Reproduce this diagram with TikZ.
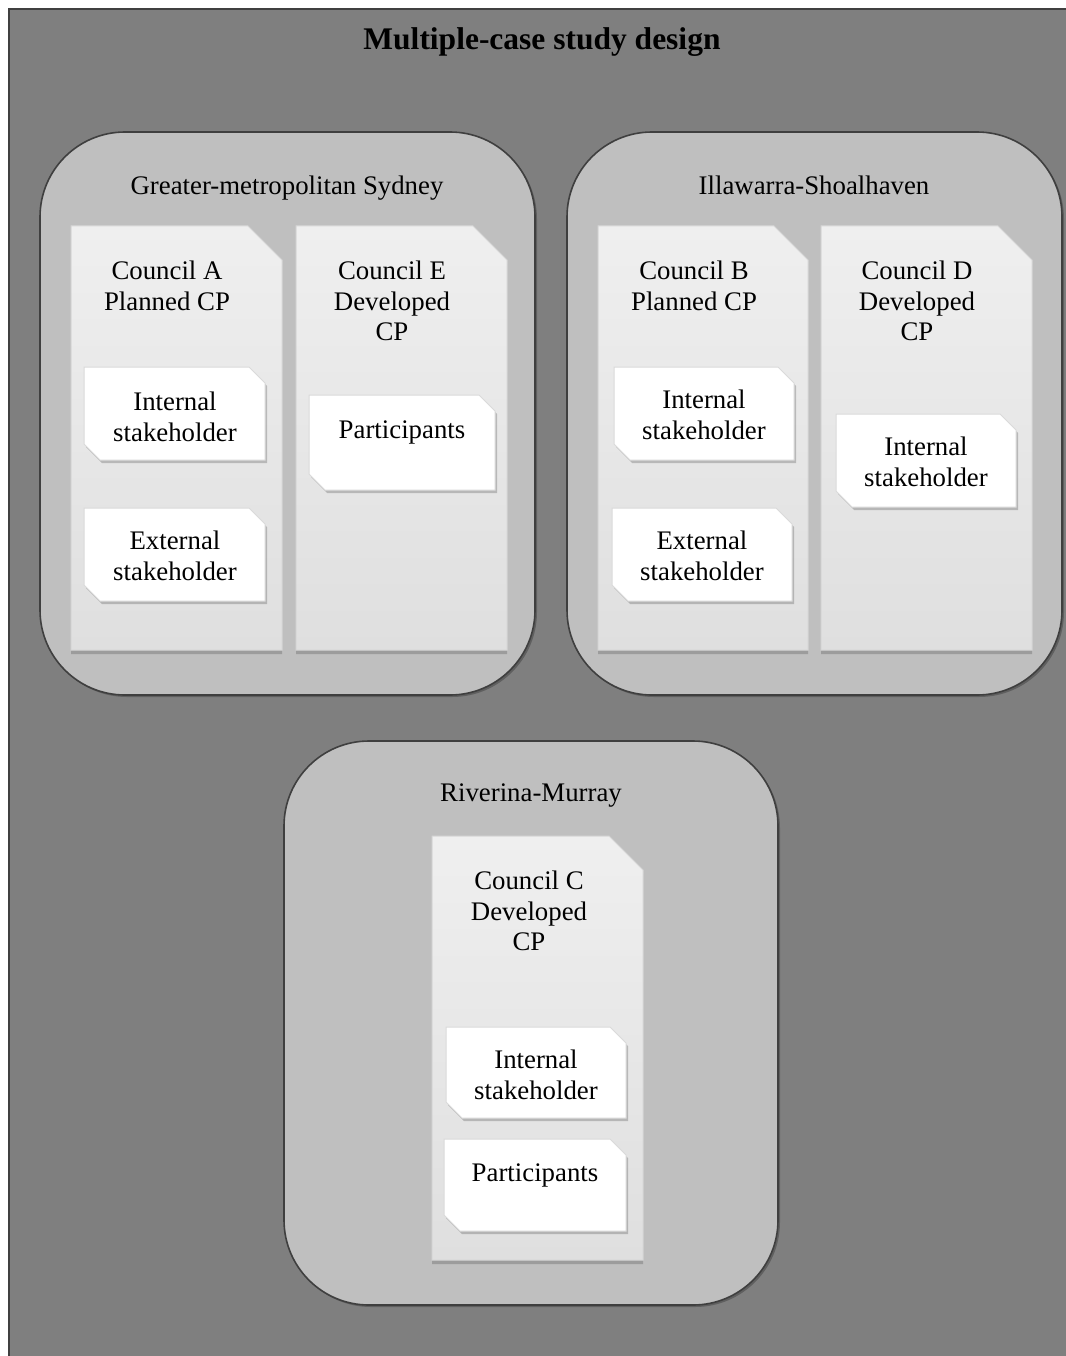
\documentclass[tikz,border=0pt]{standalone}
\usepackage{fontspec}
\setmainfont{Liberation Serif}
\usetikzlibrary{shadows}

\definecolor{bgdark}{HTML}{7F7F7F}
\definecolor{bgline}{HTML}{404040}
\definecolor{regionfill}{HTML}{BFBFBF}
\definecolor{regionline}{HTML}{3F3F3F}
\definecolor{doctop}{HTML}{EFEFEF}
\definecolor{docbottom}{HTML}{DFDFDF}
\definecolor{docline}{HTML}{D6D6D6}
\definecolor{cardline}{HTML}{DADADA}

\tikzset{
  region/.style={fill=regionfill, draw=regionline, line width=1.6pt, rounded corners=85pt,
    drop shadow={shadow xshift=2pt, shadow yshift=-2pt, fill=black, opacity=0.25}},
  councilbox/.style={top color=doctop, bottom color=docbottom, draw=docline, line width=1pt,
    drop shadow={shadow xshift=0pt, shadow yshift=-4pt, fill=black, opacity=0.18}},
  cardbox/.style={fill=white, draw=cardline, line width=1pt,
    drop shadow={shadow xshift=2pt, shadow yshift=-3pt, fill=black, opacity=0.2}},
  label/.style={align=center, inner sep=0pt, font=\fontsize{26.8}{30.5}\selectfont},
  heading/.style={inner sep=0pt, font=\fontsize{31.5}{36}\selectfont\bfseries},
}

% council document: rectangle with the top-right corner cut off
\newcommand{\councildoc}[4]{%
  \path[councilbox] (#1,#2) -- (#3-34,#2) -- (#3,#2+34) -- (#3,#4) -- (#1,#4) -- cycle;}
% small card: top-right and bottom-left corners cut off
\newcommand{\carddoc}[4]{%
  \path[cardbox] (#1,#2) -- (#3-16,#2) -- (#3,#2+16) -- (#3,#4) -- (#1+16,#4) -- (#1,#4-16) -- cycle;}

\begin{document}
\begin{tikzpicture}[x=1pt,y=-1pt]
  \useasboundingbox (0,0) rectangle (1065,1356);
  \fill[white] (0,0) rectangle (1065,1356);

  % outer frame
  \fill[bgdark] (9,9) rectangle (1075,1366);
  \draw[bgline, line width=1.6pt] (9,1366) -- (9,9) -- (1075,9);

  \node[heading] (title) at (542,42) {Multiple-case study design};

  % regions
  \path[region] (40,132) rectangle (535,695);
  \path[region] (567,132) rectangle (1062,695);
  \path[region] (284,741) rectangle (778,1305);

  \node[label] (sydney) at (287,188) {Greater-metropolitan Sydney};
  \node[label] (illawarra) at (814,185) {Illawarra-Shoalhaven};
  \node[label] (riverina) at (531,796) {Riverina-Murray};

  % councils
  \councildoc{71}{226}{282}{650}
  \councildoc{296}{226}{507}{650}
  \councildoc{598}{226}{808}{650}
  \councildoc{821}{226}{1032}{650}
  \councildoc{432}{836}{643}{1260}

  \node[label] (councilA) at (167,286) {Council A\\Planned CP};
  \node[label] (councilE) at (392,301) {Council E\\Developed\\CP};
  \node[label] (councilB) at (694,286) {Council B\\Planned CP};
  \node[label] (councilD) at (917,301) {Council D\\Developed\\CP};
  \node[label] (councilC) at (529,911) {Council C\\Developed\\CP};

  % stakeholder cards
  \carddoc{84}{367}{265}{460}
  \carddoc{84}{508}{265}{601}
  \carddoc{309}{395}{495}{490}
  \carddoc{614}{367}{794}{460}
  \carddoc{612}{508}{792}{601}
  \carddoc{836}{414}{1016}{507}
  \carddoc{446}{1027}{626}{1118}
  \carddoc{444}{1139}{626}{1231}

  \node[label] (intA) at (175,417) {Internal\\stakeholder};
  \node[label] (extA) at (175,556) {External\\stakeholder};
  \node[label] (partE) at (402,432) {Participants};
  \node[label] (intB) at (704,415) {Internal\\stakeholder};
  \node[label] (extB) at (702,556) {External\\stakeholder};
  \node[label] (intD) at (926,462) {Internal\\stakeholder};
  \node[label] (intC) at (536,1075) {Internal\\stakeholder};
  \node[label] (partC) at (535,1175) {Participants};
\end{tikzpicture}
\end{document}
